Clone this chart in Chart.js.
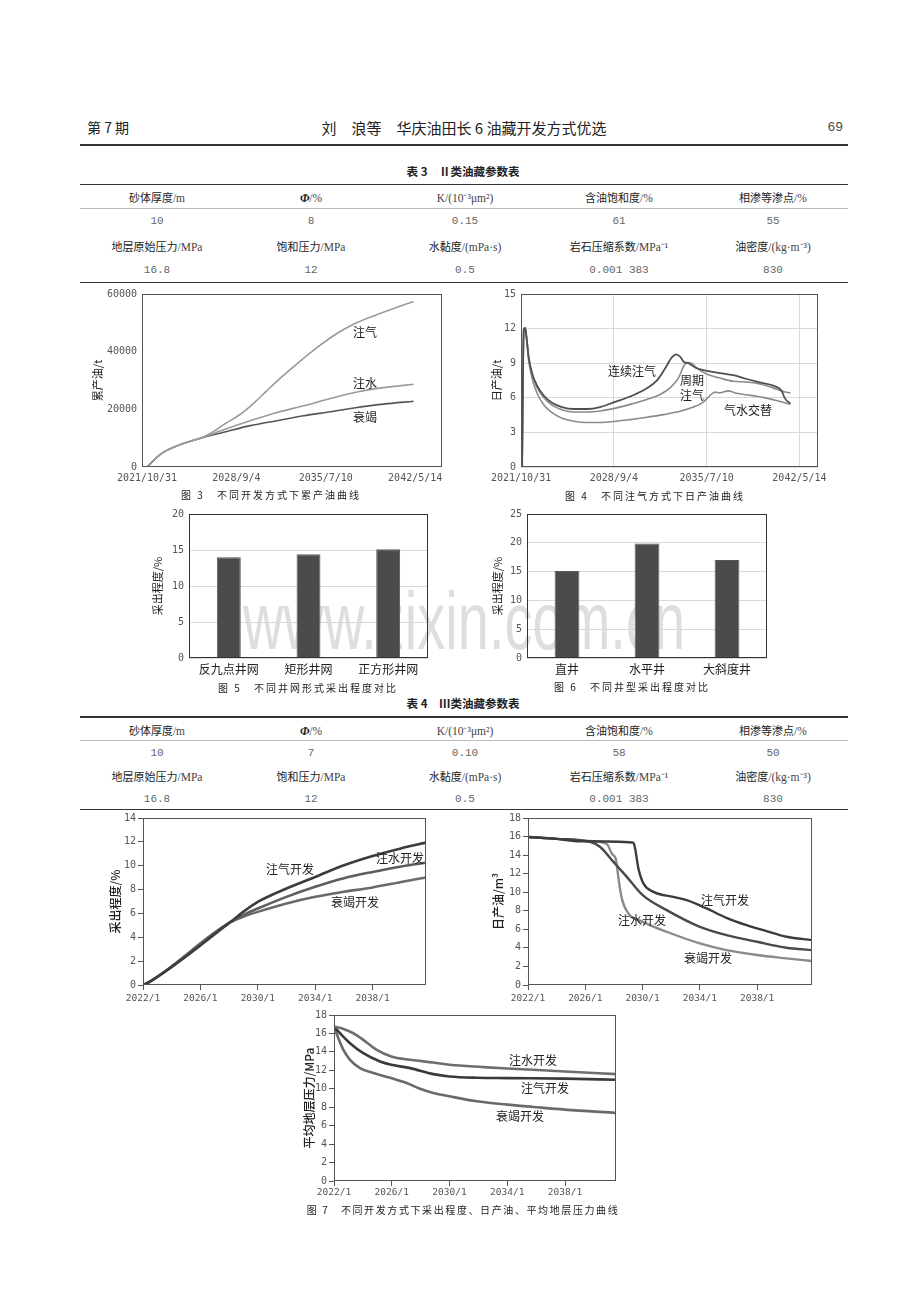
<!DOCTYPE html>
<html><head><meta charset="utf-8">
<script src="https://cdn.jsdelivr.net/npm/chart.js@4.4.1/dist/chart.umd.min.js"></script>
<style>
html,body{margin:0;padding:0;background:#fff;}
body{width:920px;height:1302px;position:relative;overflow:hidden;font-family:"Noto Sans CJK SC","Noto Sans",sans-serif;color:#222;}
.abs{position:absolute;white-space:nowrap;line-height:1.2;}
.c{transform:translate(-50%,-50%);}
.hl{position:absolute;left:80px;width:768px;}
.row{position:absolute;left:80px;width:770px;display:flex;height:16px;line-height:16px;font-size:11px;}
.row div{width:154px;text-align:center;white-space:nowrap;}
.num{font-family:"Liberation Mono","DejaVu Sans Mono",monospace;color:#666;font-size:11px;}
.u{font-family:"Liberation Serif",serif;color:#444;font-size:11.5px;}
.cap{font-size:10px;letter-spacing:2px;color:#222;z-index:3;}
.ann{font-size:12px;color:#222;z-index:3;}
#wm{position:absolute;left:243px;top:581px;font-family:"Liberation Sans",sans-serif;font-size:81px;line-height:1;color:#dedede;white-space:nowrap;transform-origin:0 0;z-index:0;}
</style></head>
<body>
<div id="wm">www.zixin.com.cn</div>

<div class="abs" style="left:87px;top:119px;font-size:14px;">第 7 期</div>
<div class="abs c" style="left:464px;top:128px;font-size:15px;">刘　浪等　华庆油田长 6 油藏开发方式优选</div>
<div class="abs" style="right:77px;top:120px;font-size:13px;font-family:'Liberation Mono',monospace;color:#444;">69</div>
<div class="hl" style="top:144px;height:2px;background:#333;"></div>

<div class="abs c" style="left:463px;top:172px;font-size:11.5px;font-weight:bold;">表 3　Ⅱ类油藏参数表</div>
<div class="hl" style="top:183.5px;height:1.5px;background:#333;"></div>
<div class="hl" style="top:208px;height:1px;background:#bbb;"></div>
<div class="hl" style="top:281.5px;height:1.5px;background:#333;"></div>

<div class="abs c" style="left:463px;top:704px;font-size:11.5px;font-weight:bold;">表 4　Ⅲ类油藏参数表</div>
<div class="hl" style="top:716px;height:1.5px;background:#333;"></div>
<div class="hl" style="top:740px;height:1px;background:#bbb;"></div>
<div class="hl" style="top:808.5px;height:1.5px;background:#333;"></div>

<!-- chart annotations -->
<div class="abs c ann" style="left:365px;top:332px;">注气</div>
<div class="abs c ann" style="left:365px;top:383px;">注水</div>
<div class="abs c ann" style="left:365px;top:417px;">衰竭</div>
<div class="abs c cap" style="left:271px;top:495px;">图 3　不同开发方式下累产油曲线</div>

<div class="abs c ann" style="left:632px;top:371px;">连续注气</div>
<div class="abs c ann" style="left:692px;top:380px;">周期</div>
<div class="abs c ann" style="left:692px;top:395px;">注气</div>
<div class="abs c ann" style="left:748px;top:410px;">气水交替</div>
<div class="abs c cap" style="left:655px;top:496px;">图 4　不同注气方式下日产油曲线</div>

<div class="abs c cap" style="left:308px;top:688px;">图 5　不同井网形式采出程度对比</div>
<div class="abs c cap" style="left:632px;top:687px;">图 6　不同井型采出程度对比</div>

<div class="abs c ann" style="left:290px;top:869px;">注气开发</div>
<div class="abs c ann" style="left:400px;top:858px;">注水开发</div>
<div class="abs c ann" style="left:355px;top:902px;">衰竭开发</div>

<div class="abs c ann" style="left:725px;top:900px;">注气开发</div>
<div class="abs c ann" style="left:642px;top:920px;">注水开发</div>
<div class="abs c ann" style="left:708px;top:958px;">衰竭开发</div>

<div class="abs c ann" style="left:533px;top:1060px;">注水开发</div>
<div class="abs c ann" style="left:545px;top:1088px;">注气开发</div>
<div class="abs c ann" style="left:520px;top:1116px;">衰竭开发</div>
<div class="abs c cap" style="left:463px;top:1210px;letter-spacing:1.6px;">图 7　不同开发方式下采出程度、日产油、平均地层压力曲线</div>

<script>
// ===== Table data =====
const tableHead1 = ["砂体厚度/m","Φ/%","K/(10⁻³μm²)","含油饱和度/%","相渗等渗点/%"];
const tableHead2 = ["地层原始压力/MPa","饱和压力/MPa","水黏度/(mPa·s)","岩石压缩系数/MPa⁻¹","油密度/(kg·m⁻³)"];
const table3Row1 = ["10","8","0.15","61","55"];
const table3Row2 = ["16.8","12","0.5","0.001 383","830"];
const table4Row1 = ["10","7","0.10","58","50"];
const table4Row2 = ["16.8","12","0.5","0.001 383","830"];

// ===== Figure 3: cumulative oil (t), x = days since 2021/10/31 =====
const f3XTickValues = [0,2500,5000,7500];
const f3XTickLabels = ["2021/10/31","2028/9/4","2035/7/10","2042/5/14"];
const f3YTickValues = [0,20000,40000,60000];
const f3DaysGas = [0,140,280,466,746,1118,1491,1820,2144,2610,2982,3355,3728,4194,4753,5312,5778,6338,6897,7456];
const f3Gas = [0,1720,3440,5160,6880,8600,9980,12000,14700,18300,22100,26500,30800,35800,41400,46300,49500,52400,55000,57400];
const f3DaysWater = [0,140,280,466,746,1118,1491,2144,2889,3635,4380,5126,5872,6617,7456];
const f3Water = [0,1720,3440,5160,6880,8600,9980,12960,16060,18930,21220,23750,26040,27530,28680];
const f3DaysDepl = [0,140,280,466,746,1118,1491,2144,2889,3635,4380,5126,5872,6617,7456];
const f3Depl = [0,1720,3440,5160,6880,8600,9980,12050,14340,16060,17780,19160,20650,21800,22830];

// ===== Figure 4: daily oil (t), x = days =====
const f4XTickValues = [0,2500,5000,7500];
const f4XTickLabels = ["2021/10/31","2028/9/4","2035/7/10","2042/5/14"];
const f4YTickValues = [0,3,6,9,12,15];
const f4DaysCont = [27,72,108,143,206,296,430,609,833,1102,1416,1774,2132,2491,2939,3387,3656,3880,4059,4175,4283,4390,4507,4686,5000,5358,5716,6075,6433,6792,7016,7105,7258];
const f4Cont = [0,11.91,12.06,11.34,9.49,8.14,7.06,6.2,5.57,5.2,5.03,5.03,5.2,5.6,6.11,6.83,7.49,8.54,9.49,9.77,9.57,9.11,9.0,8.63,8.34,8.14,7.97,7.63,7.34,7.06,6.63,5.97,5.49];
const f4DaysCyc = [27,72,108,143,206,296,430,609,833,1102,1416,1774,2132,2491,2939,3387,3745,4014,4238,4390,4480,4596,4731,5000,5358,5716,6075,6433,6792,7060,7258];
const f4Cyc = [0,11.9,12.06,11.34,9.4,8.0,6.9,6.03,5.37,4.97,4.77,4.77,4.86,5.06,5.43,5.86,6.29,6.86,7.71,8.8,9.06,9.0,8.6,8.06,7.71,7.43,7.37,7.2,6.86,6.54,6.43];
const f4DaysWag = [27,72,108,143,206,296,430,609,833,1102,1416,1774,2132,2491,2939,3387,3835,4283,4641,4910,5089,5224,5358,5582,5806,6075,6344,6612,6881,7258];
const f4Wag = [0,11.9,12.06,11.2,9.2,7.7,6.4,5.4,4.71,4.23,3.97,3.86,3.86,3.94,4.11,4.31,4.54,4.83,5.2,5.63,6.2,6.49,6.43,6.6,6.4,6.26,6.14,5.97,5.77,5.43];

// ===== Figure 5 / 6: recovery degree (%) =====
const f5Categories = ["反九点井网","矩形井网","正方形井网"];
const f5Values = [14.0,14.4,15.1];
const f5YTickValues = [0,5,10,15,20];
const f6Categories = ["直井","水平井","大斜度井"];
const f6Values = [15.1,19.9,17.0];
const f6YTickValues = [0,5,10,15,20,25];

// ===== Figure 7: x = years since 2022/1 =====
const f7XTickValues = [0,4,8,12,16];
const f7XTickLabels = ["2022/1","2026/1","2030/1","2034/1","2038/1"];
// 7a recovery degree (%)
const f7aYTickValues = [0,2,4,6,8,10,12,14];
const f7aYears = [0,0.3,6.05,6.98,8,10,12,14,16,17.9,19.72];
const f7aGas = [0,0.15,5.24,6.13,6.97,8.09,9.06,10.04,10.82,11.43,11.94];
const f7aWater = [0,0.15,5.24,5.86,6.41,7.39,8.23,8.95,9.48,9.92,10.25];
const f7aDepl = [0,0.15,5.24,5.72,6.13,6.83,7.39,7.81,8.18,8.62,9.02];
// 7b daily oil (m3)
const f7bYTickValues = [0,2,4,6,8,10,12,14,16,18];
const f7bYearsGas = [0,2,3.65,7.36,7.48,7.71,8.06,8.76,10.15,11.08,12.47,13.86,15.26,16.65,18.04,19.83];
const f7bGas = [15.96,15.75,15.49,15.35,14.7,12.55,10.94,10.04,9.5,9.14,8.25,7.24,6.45,5.81,5.2,4.84];
const f7bYearsWater = [0,2,4.34,5.04,5.97,6.9,8.01,9.68,12.0,13.86,16.0,18.04,19.83];
const f7bWater = [15.96,15.75,15.42,14.88,13.27,11.65,9.68,8.07,6.27,5.38,4.66,4.02,3.76];
const f7bYearsDepl = [0,2,4,5.5,5.85,6.15,6.32,6.55,7.01,8.01,9.68,12.0,13.86,16.0,18.04,19.83];
const f7bDepl = [15.96,15.75,15.55,15.2,14.16,13.45,11.47,9.32,7.71,6.81,5.74,4.48,3.76,3.23,2.87,2.58];
// 7c average formation pressure (MPa)
const f7cYTickValues = [0,2,4,6,8,10,12,14,16,18];
const f7cYearsWater = [0,0.65,1.34,2.03,2.96,3.97,5.27,6.88,8.0,10.35,12,16,19.53];
const f7cWater = [16.74,16.49,16.02,15.3,14.22,13.5,13.14,12.85,12.6,12.35,12.2,11.88,11.59];
const f7cYearsGas = [0,0.42,1.11,2.03,3.19,3.97,5.27,6.88,8.0,9.88,12,16,19.53];
const f7cGas = [16.74,16.02,14.94,13.86,12.96,12.6,12.24,11.59,11.34,11.2,11.16,11.1,10.98];
const f7cYearsDepl = [0,0.3,0.65,1.11,1.8,2.73,3.97,5.03,5.96,6.88,8.0,9.88,12,13.81,16,19.53];
const f7cDepl = [16.74,15.48,14.22,13.14,12.24,11.7,11.16,10.62,10.0,9.54,9.18,8.64,8.28,8.03,7.74,7.38];

// ===== build tables =====
function headHTML(t){
  if (t.startsWith("Φ")) return '<b><i style="font-family:\'Liberation Serif\',serif;font-size:12px">Φ</i></b><span class="u">' + t.slice(1) + '</span>';
  if (t.startsWith("K")) return '<span class="u">' + t + '</span>';
  const i = t.indexOf('/');
  return t.slice(0,i) + '<span class="u">' + t.slice(i) + '</span>';
}
function addRow(y, arr, isHead){
  const r = document.createElement('div');
  r.className = 'row';
  r.style.top = (y - 8) + 'px';
  arr.forEach(t => {
    const d = document.createElement('div');
    if (isHead) d.innerHTML = headHTML(t); else { d.className = 'num'; d.textContent = t; }
    r.appendChild(d);
  });
  document.body.appendChild(r);
}
addRow(197, tableHead1, true); addRow(221, table3Row1, false);
addRow(245.5, tableHead2, true); addRow(269.5, table3Row2, false);
addRow(730, tableHead1, true); addRow(752.5, table4Row1, false);
addRow(776, tableHead2, true); addRow(798.5, table4Row2, false);

// watermark width
const wm = document.getElementById('wm');
wm.style.transform = 'scaleX(' + (442 / wm.offsetWidth) + ')';

// ===== charts =====
const MONO = '"DejaVu Sans Mono","Liberation Mono",monospace';
const CJK = '"Noto Sans CJK SC",sans-serif';
Chart.defaults.font.family = MONO;
Chart.defaults.color = '#555';

const framePlugin = {
  id: 'frame',
  afterDatasetsDraw(chart, args, o) {
    const {ctx, chartArea: a} = chart;
    ctx.save();
    ctx.strokeStyle = o.color || '#444';
    ctx.lineWidth = o.width || 1;
    const l = Math.round(a.left) + 0.5, t = Math.round(a.top) + 0.5;
    const r = Math.round(a.right) - 0.5, b = Math.round(a.bottom) - 0.5;
    ctx.strokeRect(l, t, r - l, b - t);
    ctx.restore();
  }
};

function pts(xs, ys) { return xs.map((x, i) => ({x: x, y: ys[i]})); }
function addCanvas(box) {
  const c = document.createElement('canvas');
  c.width = box.w; c.height = box.h;
  c.style.cssText = 'position:absolute;left:' + box.l + 'px;top:' + box.t + 'px;z-index:1;';
  document.body.appendChild(c);
  return c;
}
function yAxis(box, plot, c) {
  return {
    min: c.ymin, max: c.ymax,
    afterBuildTicks: s => { s.ticks = c.yticks.map(v => ({value: v})); },
    afterFit: s => { s.width = plot.l - box.l; },
    ticks: {padding: c.ypad, font: {family: MONO, size: 10}, color: '#555', callback: v => String(v)},
    grid: c.ygrid, border: {display: false},
    title: {display: true, text: c.ytitle, color: '#222',
            font: {family: CJK, size: c.ytfs || 11, weight: c.ytw || 'normal'},
            padding: {top: c.ytpad, bottom: 0}}
  };
}
function lineChart(box, plot, c) {
  return new Chart(addCanvas(box), {
    type: 'line',
    data: {datasets: c.datasets.map(d => ({data: d.data, borderColor: d.color, borderWidth: d.width,
      pointRadius: 0, fill: false, cubicInterpolationMode: 'monotone'}))},
    options: {
      responsive: false, animation: false, devicePixelRatio: 1,
      layout: {padding: {top: plot.t - box.t, right: box.l + box.w - plot.r, left: 0, bottom: 0}},
      plugins: {legend: {display: false}, tooltip: {enabled: false}, frame: {color: c.frame, width: c.frameW}},
      scales: {
        x: {type: 'linear', min: c.xmin, max: c.xmax,
          afterBuildTicks: s => { s.ticks = c.xticks.map(v => ({value: v})); },
          afterFit: s => { s.height = box.t + box.h - plot.b; },
          ticks: {autoSkip: false, maxRotation: 0, padding: c.xpad, font: {family: MONO, size: c.xfs}, color: '#555',
            callback: (v, i) => c.xlabels[i]},
          grid: c.xgrid, border: {display: false}},
        y: yAxis(box, plot, c)
      }
    },
    plugins: [framePlugin]
  });
}
function barChart(box, plot, c) {
  return new Chart(addCanvas(box), {
    type: 'bar',
    data: {labels: c.labels, datasets: [{data: c.values, backgroundColor: '#4b4b4b', borderColor: '#5a5a5a', borderWidth: 1,
      barPercentage: c.barPct, categoryPercentage: 1}]},
    options: {
      responsive: false, animation: false, devicePixelRatio: 1,
      layout: {padding: {top: plot.t - box.t, right: box.l + box.w - plot.r, left: 0, bottom: 0}},
      plugins: {legend: {display: false}, tooltip: {enabled: false}, frame: {color: '#333', width: 1}},
      scales: {
        x: {afterFit: s => { s.height = box.t + box.h - plot.b; },
          ticks: {padding: 4, font: {family: CJK, size: 12}, color: '#222'},
          grid: {display: false, drawTicks: false}, border: {display: false}},
        y: yAxis(box, plot, c)
      }
    },
    plugins: [framePlugin]
  });
}

const noGrid = {display: false, drawTicks: false};
const lightGrid = {display: true, color: '#d9d9d9', drawTicks: false};
const tickOnly = {display: true, drawOnChartArea: false, drawTicks: true, tickLength: 5, color: '#555'};

// Fig 3
lineChart({l: 90, t: 283, w: 370, h: 207}, {l: 142, t: 291, r: 442, b: 467}, {
  xmin: -140, xmax: 8250, xticks: f3XTickValues, xlabels: f3XTickLabels, xpad: 5, xfs: 10, xgrid: noGrid,
  ymin: 0, ymax: 60000, yticks: f3YTickValues, ypad: 5, ygrid: noGrid, ytitle: '累产油/t', ytpad: 1.5,
  frame: '#555', frameW: 1,
  datasets: [
    {data: pts(f3DaysGas, f3Gas), color: '#9a9a9a', width: 1.6},
    {data: pts(f3DaysWater, f3Water), color: '#9a9a9a', width: 1.6},
    {data: pts(f3DaysDepl, f3Depl), color: '#555', width: 1.6}
  ]
});

// Fig 4
lineChart({l: 486, t: 283, w: 350, h: 207}, {l: 521, t: 292, r: 818, b: 467}, {
  xmin: 0, xmax: 8000, xticks: f4XTickValues, xlabels: f4XTickLabels, xpad: 5, xfs: 10, xgrid: lightGrid,
  ymin: 0, ymax: 15, yticks: f4YTickValues, ypad: 5, ygrid: lightGrid, ytitle: '日产油/t', ytpad: 4,
  frame: '#555', frameW: 1,
  datasets: [
    {data: pts(f4DaysCont, f4Cont), color: '#4f4f4f', width: 1.8},
    {data: pts(f4DaysCyc, f4Cyc), color: '#8a8a8a', width: 1.6},
    {data: pts(f4DaysWag, f4Wag), color: '#8a8a8a', width: 1.6}
  ]
});

// Fig 5
barChart({l: 150, t: 503, w: 290, h: 178}, {l: 189, t: 511, r: 428, b: 658}, {
  labels: f5Categories, values: f5Values, barPct: 0.3,
  ymin: 0, ymax: 20, yticks: f5YTickValues, ypad: 5, ygrid: lightGrid, ytitle: '采出程度/%', ytpad: 1.5
});
// Fig 6
barChart({l: 487, t: 503, w: 290, h: 178}, {l: 527, t: 511, r: 767, b: 658}, {
  labels: f6Categories, values: f6Values, barPct: 0.31,
  ymin: 0, ymax: 25, yticks: f6YTickValues, ypad: 5, ygrid: lightGrid, ytitle: '采出程度/%', ytpad: 4.5
});

// Fig 7a
lineChart({l: 105, t: 810, w: 335, h: 200}, {l: 143, t: 818, r: 426, b: 985}, {
  xmin: 0, xmax: 19.72, xticks: f7XTickValues, xlabels: f7XTickLabels, xpad: 3, xfs: 9.5, xgrid: tickOnly,
  ymin: 0, ymax: 14, yticks: f7aYTickValues, ypad: 2, ygrid: tickOnly, ytitle: '采出程度/%', ytpad: 3, ytfs: 12, ytw: '500',
  frame: '#555', frameW: 1,
  datasets: [
    {data: pts(f7aYears, f7aGas), color: '#3c3c3c', width: 2.6},
    {data: pts(f7aYears, f7aWater), color: '#5e5e5e', width: 2.6},
    {data: pts(f7aYears, f7aDepl), color: '#6a6a6a', width: 2.6}
  ]
});
// Fig 7b
lineChart({l: 487, t: 810, w: 340, h: 200}, {l: 528, t: 818, r: 812, b: 985}, {
  xmin: 0, xmax: 19.83, xticks: f7XTickValues, xlabels: f7XTickLabels, xpad: 3, xfs: 9.5, xgrid: tickOnly,
  ymin: 0, ymax: 18, yticks: f7bYTickValues, ypad: 2, ygrid: tickOnly, ytitle: '日产油/m³', ytpad: 4, ytfs: 12, ytw: '500',
  frame: '#555', frameW: 1,
  datasets: [
    {data: pts(f7bYearsGas, f7bGas), color: '#3c3c3c', width: 2.4},
    {data: pts(f7bYearsWater, f7bWater), color: '#4a4a4a', width: 2.4},
    {data: pts(f7bYearsDepl, f7bDepl), color: '#8a8a8a', width: 2.4}
  ]
});
// Fig 7c
lineChart({l: 300, t: 1006, w: 330, h: 196}, {l: 334, t: 1015, r: 616, b: 1181}, {
  xmin: 0, xmax: 19.53, xticks: f7XTickValues, xlabels: f7XTickLabels, xpad: 1, xfs: 9.5, xgrid: tickOnly,
  ymin: 0, ymax: 18, yticks: f7cYTickValues, ypad: 2, ygrid: tickOnly, ytitle: '平均地层压力/MPa', ytpad: 2.5, ytfs: 12, ytw: '500',
  frame: '#555', frameW: 1,
  datasets: [
    {data: pts(f7cYearsWater, f7cWater), color: '#6e6e6e', width: 2.6},
    {data: pts(f7cYearsGas, f7cGas), color: '#3a3a3a', width: 2.6},
    {data: pts(f7cYearsDepl, f7cDepl), color: '#6a6a6a', width: 2.6}
  ]
});
</script>
</body></html>
